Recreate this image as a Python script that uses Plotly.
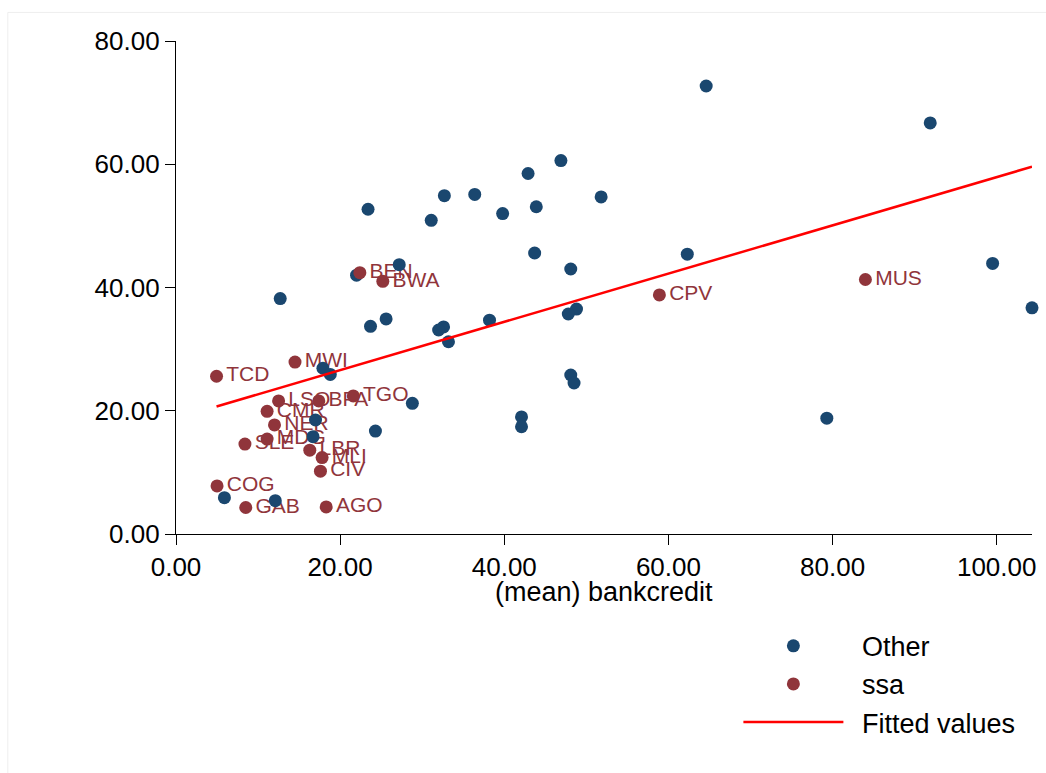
import plotly.graph_objects as go

# Non-SSA economies: mean bank credit vs. outcome
other_x = [64.6, 91.9, 46.9, 42.9, 32.7, 36.4, 51.8, 23.4, 43.9, 39.8,
           31.1, 62.3, 43.7, 99.5, 48.1, 27.2, 22.0, 12.7, 104.3, 48.8,
           47.8, 25.6, 23.7, 38.2, 32.6, 32.0, 33.2, 17.9, 18.8, 48.1,
           48.5, 28.8, 42.1, 79.3, 42.1, 24.3, 17.0, 16.7, 5.9, 12.1]
other_y = [72.7, 66.7, 60.6, 58.5, 54.9, 55.1, 54.7, 52.7, 53.1, 52.0,
           50.9, 45.4, 45.6, 43.9, 43.0, 43.7, 42.0, 38.2, 36.7, 36.5,
           35.7, 34.9, 33.7, 34.7, 33.6, 33.1, 31.2, 26.9, 25.9, 25.8,
           24.5, 21.2, 19.0, 18.8, 17.4, 16.7, 18.5, 15.8, 5.9, 5.4]

# Sub-Saharan Africa, labelled by ISO code
ssa_code = ["TCD", "MWI", "LSO", "BFA", "TGO", "CMR", "NER", "MDG", "SLE", "LBR",
            "MLI", "CIV", "COG", "GAB", "AGO", "BEN", "BWA", "CPV", "MUS"]
ssa_x = [4.94, 14.5, 12.5, 17.4, 21.6, 11.1, 12.0, 11.1, 8.4, 16.3,
         17.8, 17.6, 5.0, 8.5, 18.3, 22.4, 25.2, 58.9, 84.0]
ssa_y = [25.6, 27.9, 21.6, 21.6, 22.4, 19.9, 17.7, 15.4, 14.6, 13.6,
         12.4, 10.2, 7.8, 4.3, 4.4, 42.4, 41.0, 38.8, 41.3]

# Linear fit over the observed range of bank credit
fit_x = [4.94, 104.3]
fit_y = [20.7, 59.6]

x_ticks = [0, 20, 40, 60, 80, 100]
y_ticks = [0, 20, 40, 60, 80]

NAVY = "#1a476f"
MAROON = "#90353b"
FONT = "Liberation Sans, Arial, Helvetica, sans-serif"
GAP = "\u2002"  # en space between legend key and its label

fig = go.Figure()

# marker labels sit underneath every marker; the invisible markers keep
# the text offset from the point by the marker radius
fig.add_trace(go.Scatter(
    x=ssa_x, y=ssa_y, mode="markers+text", text=ssa_code,
    textposition="middle right",
    marker=dict(size=14, opacity=0),
    textfont=dict(family=FONT, size=21, color=MAROON),
    showlegend=False, hoverinfo="skip", cliponaxis=False,
))
fig.add_trace(go.Scatter(
    x=other_x, y=other_y, mode="markers", name=GAP + "Other",
    marker=dict(color=NAVY, size=13, line=dict(width=0)),
    cliponaxis=False,
))
fig.add_trace(go.Scatter(
    x=ssa_x, y=ssa_y, mode="markers", name=GAP + "ssa",
    marker=dict(color=MAROON, size=13, line=dict(width=0)),
    cliponaxis=False,
))
fig.add_trace(go.Scatter(
    x=fit_x, y=fit_y, mode="lines", name=GAP + "Fitted values",
    line=dict(color="#ff0000", width=2.5),
    cliponaxis=False,
))

axis_common = dict(
    showgrid=False, zeroline=False, showline=True,
    linecolor="black", linewidth=1.3,
    ticks="outside", ticklen=10, tickwidth=1.3, tickcolor="black",
    tickfont=dict(family=FONT, size=26, color="black"),
    tickformat=".2f",
)

fig.update_xaxes(range=[0, 104.3], tickvals=x_ticks, **axis_common)
fig.update_yaxes(range=[0, 80], tickvals=y_ticks, **axis_common)

# x-axis title
fig.add_annotation(
    text="(mean) bankcredit", xref="paper", yref="paper",
    x=0.5, y=-0.1176, xanchor="center", yanchor="middle",
    showarrow=False, font=dict(family=FONT, size=27, color="black"),
)

# faint outer frame of the graph region
fig.add_shape(type="rect", xref="paper", yref="paper",
              x0=-0.1965, x1=1.3, y0=-0.7, y1=1.058,
              line=dict(color="#eeeeee", width=1), fillcolor="rgba(0,0,0,0)",
              layer="below")

fig.update_layout(
    width=1046, height=773,
    margin=dict(l=176, r=10, t=41, b=239),
    paper_bgcolor="white", plot_bgcolor="white",
    font=dict(family=FONT, size=26, color="black"),
    legend=dict(
        x=0.657, y=-0.178, xanchor="left", yanchor="top",
        itemwidth=100, font=dict(family=FONT, size=27, color="black"),
        bgcolor="rgba(0,0,0,0)", tracegroupgap=0,
    ),
)

fig.write_html("out.html")
